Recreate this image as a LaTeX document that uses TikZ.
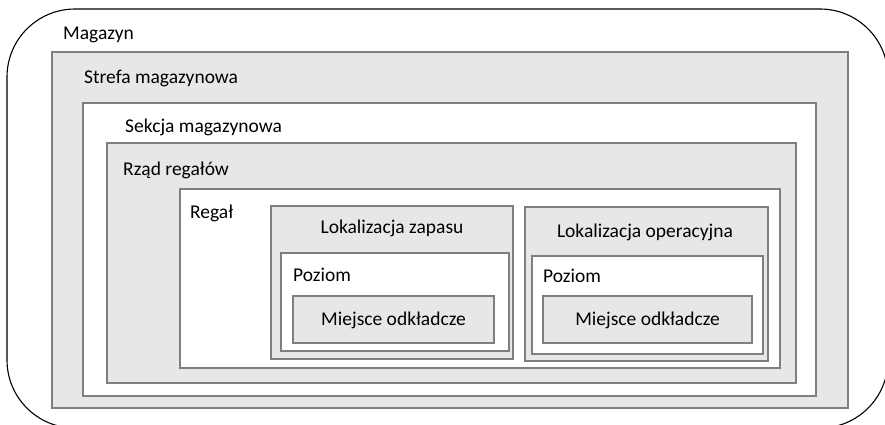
\documentclass[tikz,border=0pt]{standalone}
\usepackage{fontspec}
\setmainfont{Carlito}
\definecolor{boxgray}{HTML}{E7E7E7}
\definecolor{edgegray}{HTML}{7F7F7F}
\begin{document}
\begin{tikzpicture}[x=1pt,y=-1pt,
  graybox/.style={draw=edgegray, fill=boxgray, line width=1.5pt},
  whitebox/.style={draw=edgegray, fill=white, line width=1.5pt},
  lbl/.style={font=\fontsize{19.5}{23}\selectfont, inner sep=0pt, text=black}]
\useasboundingbox (0,0) rectangle (885,424);
% outer
\draw[line width=1.1pt, rounded corners=68pt, fill=white] (7,9) rectangle (888,428);
\path[graybox] (52,52) rectangle (848,408);
\path[whitebox] (83,103) rectangle (816,396);
\path[graybox] (107,143) rectangle (796,383);
\path[whitebox] (180,189) rectangle (780,368);
% Lokalizacja zapasu
\path[graybox] (271,206) rectangle (513,359);
\path[whitebox] (281,253) rectangle (509,351);
\path[graybox] (293,296) rectangle (494,343);
% Lokalizacja operacyjna
\path[graybox] (525,207) rectangle (768,361);
\path[whitebox] (532,256) rectangle (763,354);
\path[graybox] (543,296) rectangle (752,343);
% labels
\node[lbl, anchor=west] (magazyn) at (63,35) {Magazyn};
\node[lbl, anchor=west] (strefa) at (84,78) {Strefa magazynowa};
\node[lbl, anchor=west] (sekcja) at (125,127) {Sekcja magazynowa};
\node[lbl, anchor=west] (rzad) at (123,170) {Rząd regałów};
\node[lbl, anchor=west] (regal) at (190,213) {Regał};
\node[lbl] (lokz) at (392,228) {Lokalizacja zapasu};
\node[lbl, anchor=west] (poz1) at (293,275) {Poziom};
\node[lbl] (m1) at (393.5,320) {Miejsce odkładcze};
\node[lbl] (loko) at (645,232) {Lokalizacja operacyjna};
\node[lbl, anchor=west] (poz2) at (543,276) {Poziom};
\node[lbl] (m2) at (647.5,320) {Miejsce odkładcze};
\end{tikzpicture}
\end{document}
